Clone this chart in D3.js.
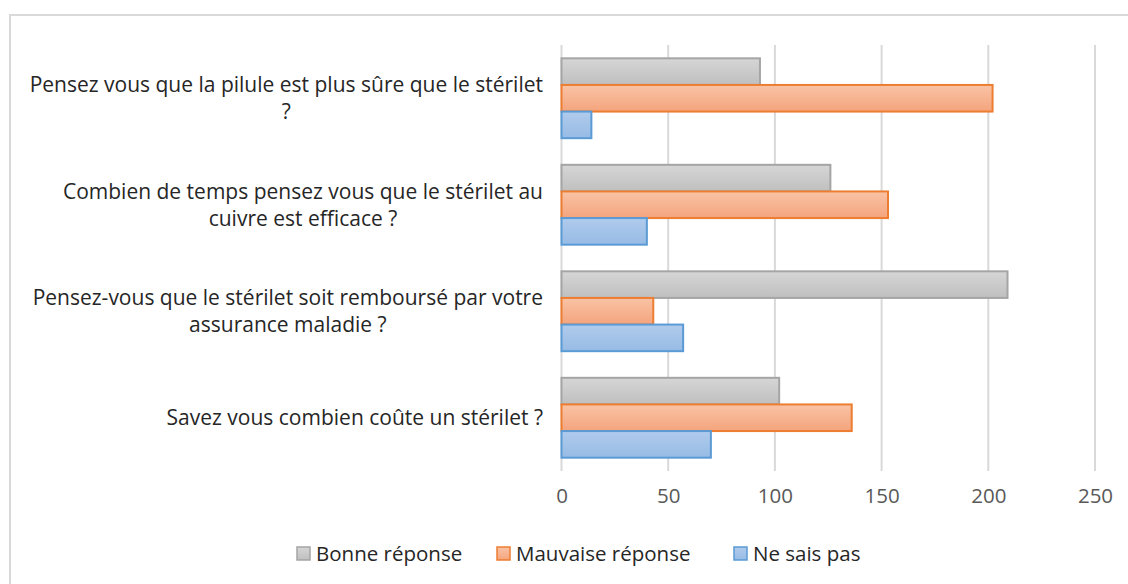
<!DOCTYPE html>
<html>
<head>
<meta charset="utf-8">
<script src="https://cdn.jsdelivr.net/npm/d3@7"></script>
<style>
  body { margin: 0; background: #fff; }
  svg { display: block; font-family: "Open Sans", sans-serif; }
</style>
</head>
<body>
<svg id="chart" width="1128" height="584"></svg>
<script>
// questions, top to bottom (line breaks as in the original wrap)
var categories = [
  "Pensez vous que la pilule est plus sûre que le stérilet\n?",
  "Combien de temps pensez vous que le stérilet au\ncuivre est efficace ?",
  "Pensez-vous que le stérilet soit remboursé par votre\nassurance maladie ?",
  "Savez vous combien coûte un stérilet ?"
];
var seriesNames = ["Bonne réponse", "Mauvaise réponse", "Ne sais pas"];
var bonne    = [93, 126, 209, 102];
var mauvaise = [202, 153, 43, 136];
var nesaispas = [14, 40, 57, 70];
var xTicks = [0, 50, 100, 150, 200, 250];

var values = [bonne, mauvaise, nesaispas];
var fills = [["#d6d6d6", "#bfbfbf"], ["#f9c3a5", "#f4a47d"], ["#b0cbec", "#97bbe5"]];
var strokes = ["#a5a5a5", "#ed7d31", "#5b9bd5"];
var fontSize = 21;

var svg = d3.select("#chart");

// chart frame (runs past the right and bottom edges)
svg.append("rect")
  .attr("x", 10).attr("y", 15)
  .attr("width", 1140).attr("height", 600)
  .attr("fill", "none").attr("stroke", "#d9d9d9").attr("stroke-width", 2);

var defs = svg.append("defs");
fills.forEach(function (f, i) {
  var g = defs.append("linearGradient").attr("id", "grad" + i)
    .attr("x1", 0).attr("y1", 0).attr("x2", 0).attr("y2", 1);
  g.append("stop").attr("offset", "0%").attr("stop-color", f[0]);
  g.append("stop").attr("offset", "100%").attr("stop-color", f[1]);
});

var x = d3.scaleLinear().domain([0, 250]).range([561.5, 1095]);
var y = d3.scaleBand().domain(d3.range(categories.length)).range([45, 471]);
var inner = d3.scaleBand().domain(d3.range(seriesNames.length))
  .range([0, y.bandwidth()]).paddingOuter(0.5).paddingInner(0);

// gridlines
svg.append("g").selectAll("line")
  .data(xTicks).enter().append("line")
  .attr("x1", function (d) { return x(d); })
  .attr("x2", function (d) { return x(d); })
  .attr("y1", 45).attr("y2", 471)
  .attr("stroke", "#d9d9d9").attr("stroke-width", 2);

// bars
values.forEach(function (vals, s) {
  svg.append("g").selectAll("rect")
    .data(vals).enter().append("rect")
    .attr("x", x(0))
    .attr("y", function (d, i) { return y(i) + inner(s); })
    .attr("width", function (d) { return x(d) - x(0); })
    .attr("height", inner.bandwidth())
    .attr("fill", "url(#grad" + s + ")")
    .attr("stroke", strokes[s]).attr("stroke-width", 2);
});

// x axis tick labels
var xAxis = d3.axisBottom(x).tickValues(xTicks).tickSize(0).tickPadding(0);
var ax = svg.append("g").attr("transform", "translate(0,488)").call(xAxis);
ax.select(".domain").remove();
ax.selectAll("text").attr("font-size", fontSize - 0.5).attr("fill", "#595959")
  .attr("font-family", "'Open Sans', sans-serif");

// category labels, wrapped lines centred on each other, block right-aligned
var lineH = 27;
categories.forEach(function (c, i) {
  var lines = c.split("\n");
  var t = svg.append("text")
    .attr("font-size", fontSize).attr("fill", "#262626").attr("text-anchor", "middle");
  var cy = y(i) + y.bandwidth() / 2 - (lines.length - 1) * lineH / 2;
  lines.forEach(function (l, k) {
    t.append("tspan").attr("x", 0).attr("y", cy + k * lineH).attr("dy", "0.35em").text(l);
  });
  var w = d3.max(t.selectAll("tspan").nodes(), function (n) { return n.getComputedTextLength(); });
  t.selectAll("tspan").attr("x", 543 - w / 2);
});

// legend
var legX = [296, 496, 733];
var leg = svg.append("g");
seriesNames.forEach(function (n, i) {
  leg.append("rect")
    .attr("x", legX[i] + 1).attr("y", 547).attr("width", 13).attr("height", 13)
    .attr("fill", "url(#grad" + i + ")").attr("stroke", strokes[i]).attr("stroke-width", 1.5);
  leg.append("text")
    .attr("x", legX[i] + 20).attr("y", 554).attr("dy", "0.35em")
    .attr("font-size", fontSize - 0.5).attr("fill", "#262626").text(n);
});
</script>
</body>
</html>
